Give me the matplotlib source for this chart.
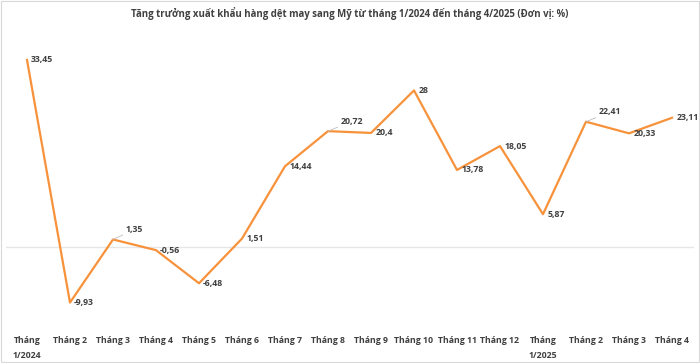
import matplotlib
matplotlib.use("Agg")
import matplotlib.pyplot as plt

months = ["Tháng\n1/2024", "Tháng 2", "Tháng 3", "Tháng 4", "Tháng 5", "Tháng 6",
          "Tháng 7", "Tháng 8", "Tháng 9", "Tháng 10", "Tháng 11", "Tháng 12",
          "Tháng\n1/2025", "Tháng 2", "Tháng 3", "Tháng 4"]
growth = [33.45, -9.93, 1.35, -0.56, -6.48, 1.51, 14.44, 20.72, 20.4, 28,
          13.78, 18.05, 5.87, 22.41, 20.33, 23.11]
labels = ["33,45", "-9,93", "1,35", "-0,56", "-6,48", "1,51", "14,44", "20,72",
          "20,4", "28", "13,78", "18,05", "5,87", "22,41", "20,33", "23,11"]
# points whose label sits up-right with a small leader line
leader = {2, 7, 13}

plt.rcParams['font.family'] = ['Open Sans', 'DejaVu Sans']

fig = plt.figure(figsize=(7, 3.63), dpi=100)
ax = fig.add_axes([5.5 / 700, 0.0884, 688 / 700, 0.7703])

x = list(range(len(growth)))
ax.axhline(0, color="#e6e6e6", lw=1, zorder=1)
ax.plot(x, growth, color="#f7923b", lw=1.6, zorder=3)

for i, (v, t) in enumerate(zip(growth, labels)):
    if i in leader:
        ax.annotate(t, (i, v), xytext=(9, 7), textcoords="offset points",
                    fontsize=6.3, fontweight="bold", color="#404040",
                    va="center", ha="left",
                    arrowprops=dict(arrowstyle="-", color="#bfbfbf", lw=0.6,
                                    shrinkA=0, shrinkB=0))
    else:
        ax.annotate(t, (i, v), xytext=(3, 0), textcoords="offset points",
                    fontsize=6.3, fontweight="bold", color="#404040",
                    va="center", ha="left")

ax.set_xlim(-0.5, len(growth) - 0.5)
ax.set_ylim(-15, 35)
ax.set_xticks(x)
ax.set_xticklabels(months, fontsize=6.3, fontweight="bold", color="#404040",
                   linespacing=1.75, va="top")
ax.tick_params(axis="x", length=0, pad=4)
ax.set_yticks([])
for s in ax.spines.values():
    s.set_visible(False)

fig.text(0.5, 0.963, "Tăng trưởng xuất khẩu hàng dệt may sang Mỹ từ tháng 1/2024 đến tháng 4/2025 (Đơn vị: %)",
         ha="center", va="center", fontsize=6.9, fontweight="bold", color="#404040")

# light frame around the chart area
fig.add_artist(plt.Rectangle((0.002, 0.004), 0.996, 0.992, transform=fig.transFigure,
                             fill=False, edgecolor="#d9d9d9", lw=0.8))

fig.savefig("out.png", dpi=100, facecolor="white")
